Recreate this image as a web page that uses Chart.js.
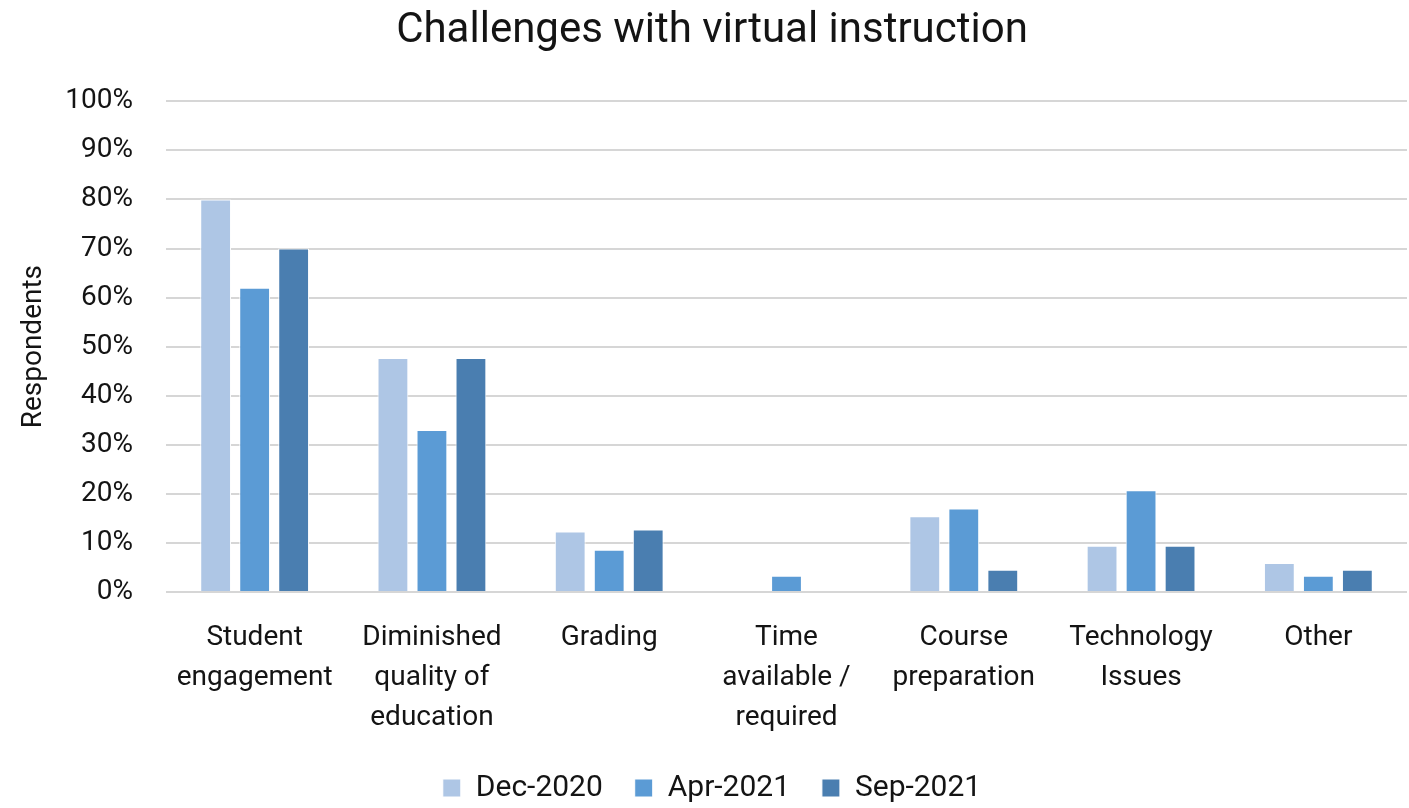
<!DOCTYPE html>
<html>
<head>
<meta charset="utf-8">
<script src="https://cdn.jsdelivr.net/npm/chart.js@4"></script>
<style>
  html, body { margin: 0; padding: 0; background: #fff; }
  #wrap { width: 1409px; height: 808px; }
</style>
</head>
<body>
<div id="wrap"><canvas id="myChart" width="1409" height="808"></canvas></div>
<script>
// categories (multi-line labels as shown under each group)
var categories = [
    ['Student', 'engagement'],
    ['Diminished', 'quality of', 'education'],
    ['Grading'],
    ['Time', 'available /', 'required'],
    ['Course', 'preparation'],
    ['Technology', 'Issues'],
    ['Other']
];

// share of respondents, in percent
var dec2020 = [80, 47.7, 12.3, 0, 15.4, 9.4, 5.9];
var apr2021 = [62, 33, 8.6, 3.3, 17, 20.7, 3.3];
var sep2021 = [70, 47.7, 12.7, 0, 4.5, 9.4, 4.5];

var seriesNames = ['Dec-2020', 'Apr-2021', 'Sep-2021'];
var seriesColors = ['#aec6e5', '#5b9bd5', '#4a7eb0'];

var fontFamily = 'Roboto, "Liberation Sans", sans-serif';
var textColor = '#141414';

var ctx = document.getElementById('myChart').getContext('2d');
var chart = new Chart(ctx, {
    type: 'bar',
    data: {
        labels: categories,
        datasets: [dec2020, apr2021, sep2021].map(function (values, i) {
            return {
                label: seriesNames[i],
                data: values,
                backgroundColor: seriesColors[i],
                borderColor: '#ffffff',
                borderWidth: 1,
                barPercentage: 0.79,
                categoryPercentage: 0.66
            };
        })
    },
    options: {
        responsive: false,
        animation: false,
        layout: { padding: { left: 17, right: 2, top: 4, bottom: -5 } },
        plugins: {
            title: {
                display: true,
                text: 'Challenges with virtual instruction',
                color: textColor,
                font: { family: fontFamily, size: 42, weight: 'normal' },
                padding: { top: 2, bottom: 45 }
            },
            legend: {
                position: 'bottom',
                labels: {
                    color: textColor,
                    font: { family: fontFamily, size: 30 },
                    boxWidth: 18,
                    boxHeight: 18,
                    padding: 17,
                    // a little extra room between the legend entries
                    generateLabels: function (chart) {
                        var items = Chart.defaults.plugins.legend.labels.generateLabels(chart);
                        items.forEach(function (item, i) {
                            if (i < items.length - 1) item.text += '  ';
                        });
                        return items;
                    }
                }
            },
            tooltip: { enabled: false }
        },
        scales: {
            x: {
                grid: { display: false },
                border: { display: false },
                ticks: {
                    color: textColor,
                    font: { family: fontFamily, size: 28, lineHeight: 1.43 },
                    padding: 18,
                    maxRotation: 0,
                    autoSkip: false
                }
            },
            y: {
                min: 0,
                max: 100,
                grid: { color: '#d6d6d6', lineWidth: 2, drawTicks: false },
                border: { display: false },
                title: {
                    display: true,
                    text: 'Respondents',
                    color: textColor,
                    font: { family: fontFamily, size: 28 },
                    padding: 0
                },
                ticks: {
                    stepSize: 10,
                    color: textColor,
                    font: { family: fontFamily, size: 28 },
                    padding: 33,
                    callback: function (v) { return v + '%'; }
                },
                afterFit: function (scale) { scale.width = 149; }
            }
        }
    }
});
</script>
</body>
</html>
